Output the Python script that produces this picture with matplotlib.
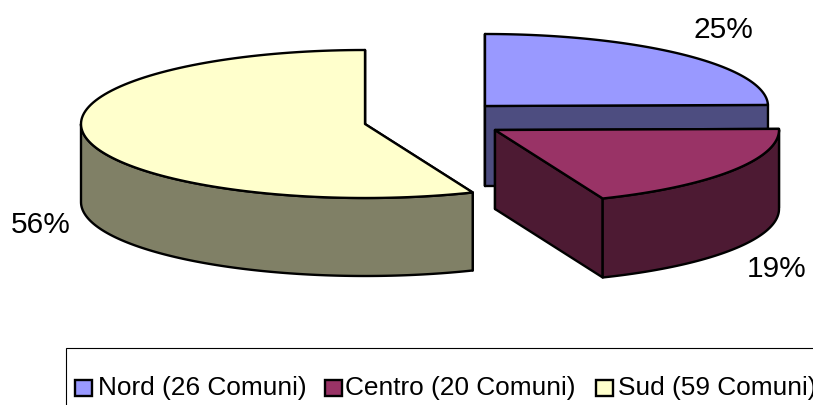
import numpy as np
import matplotlib
matplotlib.use("Agg")
import matplotlib.pyplot as plt
from matplotlib.patches import Polygon, Rectangle

plt.rcParams['font.family'] = ['Liberation Sans', 'DejaVu Sans']

categories = ['Nord', 'Centro', 'Sud']
comuni = [26, 20, 59]
top_colors = ['#9999FF', '#993366', '#FFFFCC']
side_colors = ['#4D4D80', '#4D1A33', '#808066']

# pie geometry in pixels, one entry per slice
centers = [(485, 106), (495, 130), (365, 124)]
radii = [(283, 72), (284, 74), (284, 74)]
depths = [80, 79, 78]
label_pos = [(723, 30), (777, 269), (41, 225)]
legend_swatch_x = [75, 325, 596]
legend_text_x = [98, 345, 618]

LINE = 1.7
LABEL_SIZE = 21.5
LEGEND_SIZE = 18.9


def arc(center, radius, a0, a1):
    t = np.radians(np.linspace(a0, a1, 120))
    return np.column_stack([center[0] + radius[0] * np.cos(t),
                            center[1] - radius[1] * np.sin(t)])


def draw_slice(ax, center, radius, depth, a0, a1, top, side):
    down = np.array([0, depth])
    # radial faces first, the wall and the top paint over what is hidden
    for a in (a0, a1):
        rim = arc(center, radius, a, a)[0]
        face = [center, rim, rim + down, np.array(center) + down]
        ax.add_patch(Polygon(face, fc=side, ec='k', lw=LINE, joinstyle='round'))
    # only the front half of the rim shows a wall
    w0, w1 = max(min(a0, a1), -180), min(max(a0, a1), 0)
    if w1 > w0:
        rim = arc(center, radius, w0, w1)
        wall = np.vstack([rim, rim[::-1] + down])
        ax.add_patch(Polygon(wall, fc=side, ec='k', lw=LINE, joinstyle='round'))
    pts = np.vstack([[center], arc(center, radius, a0, a1)])
    ax.add_patch(Polygon(pts, fc=top, ec='k', lw=LINE, joinstyle='round'))


fig = plt.figure(figsize=(8.13, 4.05), dpi=100)
ax = fig.add_axes([0, 0, 1, 1])
ax.set_xlim(0, 813)
ax.set_ylim(405, 0)
ax.axis('off')

total = sum(comuni)
sweeps = [360 * c / total for c in comuni]
starts = 90 - np.concatenate([[0], np.cumsum(sweeps)[:-1]])

for i in range(len(categories)):
    a0 = starts[i]
    a1 = a0 - sweeps[i]
    draw_slice(ax, centers[i], radii[i], depths[i], a0, a1, top_colors[i], side_colors[i])
    ax.text(*label_pos[i], f'{round(100 * comuni[i] / total)}%', fontsize=LABEL_SIZE,
            ha='center', va='center')

# legend box runs off the right and bottom edges of the image
ax.add_patch(Rectangle((65.5, 347.5), 800, 100, fc='white', ec='k', lw=0.8))
for i, name in enumerate(categories):
    ax.add_patch(Rectangle((legend_swatch_x[i], 380), 17, 16, fc=top_colors[i], ec='k', lw=LINE))
    ax.text(legend_text_x[i], 388, f'{name} ({comuni[i]} Comuni)', fontsize=LEGEND_SIZE,
            ha='left', va='center', clip_on=True)

fig.savefig('out.png', dpi=100)
